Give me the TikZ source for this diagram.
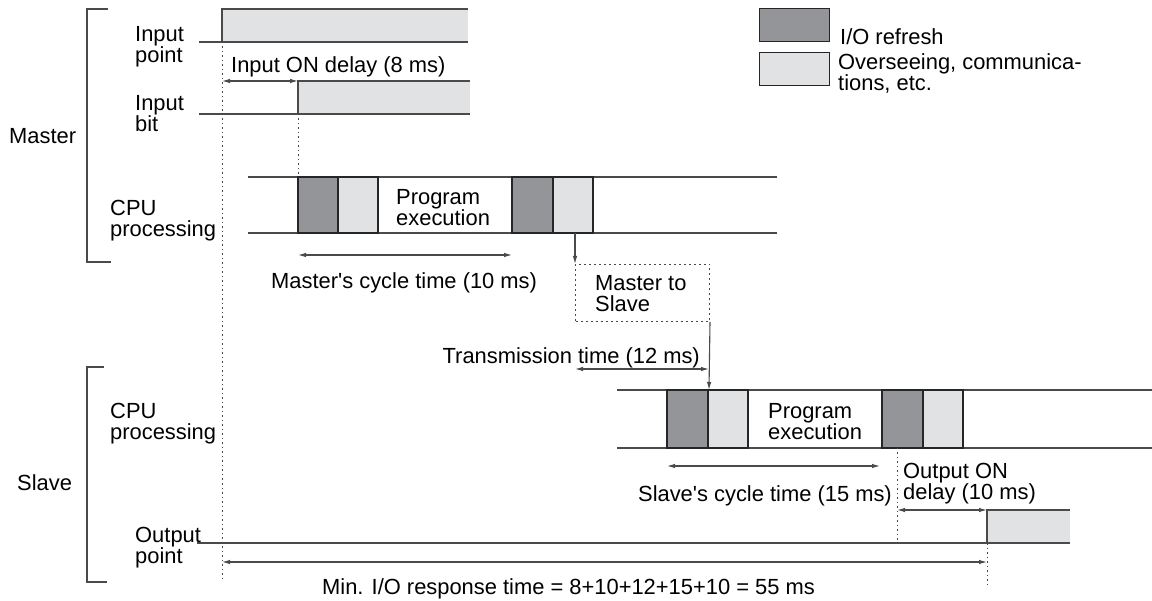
\documentclass[tikz,border=0pt]{standalone}
\usepackage{fontspec}
\setmainfont{Liberation Sans}[Ligatures=TeXOff]
\usetikzlibrary{arrows.meta}

\definecolor{iodark}{HTML}{939598}
\definecolor{oslight}{HTML}{E1E2E3}
\definecolor{linegray}{HTML}{4A4A4A}

\tikzset{
  lbl/.style={inner sep=0pt,anchor=north west,align=left,font=\fontsize{21.9}{21.5}\selectfont},
  sig/.style={draw=linegray,line width=1.2pt},
  iobox/.style={draw=black!85,line width=1.2pt,fill=iodark},
  osbox/.style={draw=black!85,line width=1.2pt,fill=oslight},
  dim/.style={linegray,line width=1.1pt,{Latex[length=8pt,width=4.5pt]}-{Latex[length=8pt,width=4.5pt]}},
  pass/.style={linegray,line width=1.1pt,-{Latex[length=8pt,width=4.5pt]}},
  dots/.style={linegray,line width=1pt,dash pattern=on 1.5pt off 3pt},
}

\begin{document}
\begin{tikzpicture}[x=1pt,y=-1pt]
  \useasboundingbox (0,0) rectangle (1152,601);

  % key instants
  \coordinate (tin) at (222,0);
  \coordinate (tbit) at (298,0);
  \coordinate (tmend) at (512,0);
  \coordinate (tsend) at (575,0);
  \coordinate (trecv) at (709,0);
  \coordinate (tsst) at (667,0);
  \coordinate (tsend2) at (882,0);
  \coordinate (tdly) at (897,0);
  \coordinate (tout) at (987,0);

  % brackets
  \draw[sig] (108,9) -- (87,9) -- (87,262) -- (111,262);
  \draw[sig] (104,367) -- (87,367) -- (87,582) -- (107,582);
  \node[lbl] (master) at (9,128) {Master};
  \node[lbl] (slave) at (17,474) {Slave};

  % input point / input bit
  \fill[oslight] (222,9) rectangle (468,42);
  \draw[sig] (199,42) -- (468,42);
  \draw[sig] (222,42) -- (222,9) -- (468,9);
  \node[lbl] (inpt) at (135,26) {Input\\point};
  \fill[oslight] (298,81) rectangle (470,114);
  \draw[sig] (199,114) -- (470,114);
  \draw[sig] (298,114) -- (298,81) -- (470,81);
  \node[lbl] (inbit) at (135,95) {Input\\bit};

  % master CPU
  \draw[sig] (248,177) -- (777,177);
  \draw[sig] (248,233) -- (777,233);
  \draw[iobox] (298,177) rectangle (338,233);
  \draw[osbox] (338,177) rectangle (378,233);
  \draw[iobox] (512,177) rectangle (553,233);
  \draw[osbox] (553,177) rectangle (593,233);
  \node[lbl] (mcpu) at (110,200) {CPU\\processing};
  \node[lbl] (mprog) at (396,189) {Program\\execution};

  % transfer box
  \node[draw=linegray,line width=1pt,dash pattern=on 2pt off 3pt,
        minimum width=134pt,minimum height=57pt,anchor=north west,inner sep=0pt]
        (xfer) at (575,264) {};
  \node[lbl] (xfertxt) at (595,275) {Master to\\Slave};

  % slave CPU
  \draw[sig] (617,390) -- (1152,390);
  \draw[sig] (617,448) -- (1152,448);
  \draw[iobox] (667,390) rectangle (708,448);
  \draw[osbox] (708,390) rectangle (748,448);
  \draw[iobox] (882,390) rectangle (923,448);
  \draw[osbox] (923,390) rectangle (963,448);
  \node[lbl] (scpu) at (110,403) {CPU\\processing};
  \node[lbl] (sprog) at (768,403) {Program\\execution};

  % output point
  \fill[oslight] (987,510) rectangle (1070,543);
  \draw[sig] (197,543) -- (1070,543);
  \draw[sig] (987,543) -- (987,510) -- (1070,510);
  \node[lbl] (outpt) at (135,527) {Output\\point};

  % dotted guides
  \draw[dots] (tin |- 0,42) -- (tin |- 0,582);
  \draw[dots] (tbit |- 0,114) -- (tbit |- 0,177);
  \draw[dots] (tdly |- 0,448) -- (tdly |- 0,543);
  \draw[dots] (tout |- 0,543) -- (tout |- 0,585);

  % flow arrows
  \draw[pass] (tsend |- 0,233) -- (xfer.north west);
  \draw[pass] (xfer.south east) -- (trecv |- 0,390);

  % times
  \draw[dim] (tin |- 0,81) -- (tbit |- 0,81);
  \node[lbl] (indly) at (231,56) {Input ON delay (8 ms)};
  \draw[dim] (tbit |- 0,255) -- (tmend |- 0,255);
  \node[lbl] (mcyc) at (271,272) {Master's cycle time (10 ms)};
  \draw[dim] (tsend |- 0,369) -- (trecv |- 0,369);
  \node[lbl,anchor=north east] (trans) at (700,347) {Transmission time (12 ms)};
  \draw[dim] (tsst |- 0,466) -- (880,466);
  \node[lbl,anchor=north east] (scyc) at (892,485) {Slave's cycle time (15 ms)};
  \draw[dim] (tdly |- 0,510) -- (tout |- 0,510);
  \node[lbl] (outdly) at (903,463) {Output ON\\delay (10 ms)};
  \draw[dim] (tin |- 0,562) -- (tout |- 0,562);
  \node[lbl] (minio) at (322,578) {Min. I/O response time = 8+10+12+15+10 = 55 ms};

  % legend
  \draw[iobox,line width=1pt] (759,9) rectangle (829,42);
  \draw[osbox,line width=1pt] (759,53) rectangle (829,86);
  \node[lbl] (lgio) at (840,28) {I/O refresh};
  \node[lbl] (lgos) at (838,53) {Overseeing, communica-\\tions, etc.};
\end{tikzpicture}
\end{document}
